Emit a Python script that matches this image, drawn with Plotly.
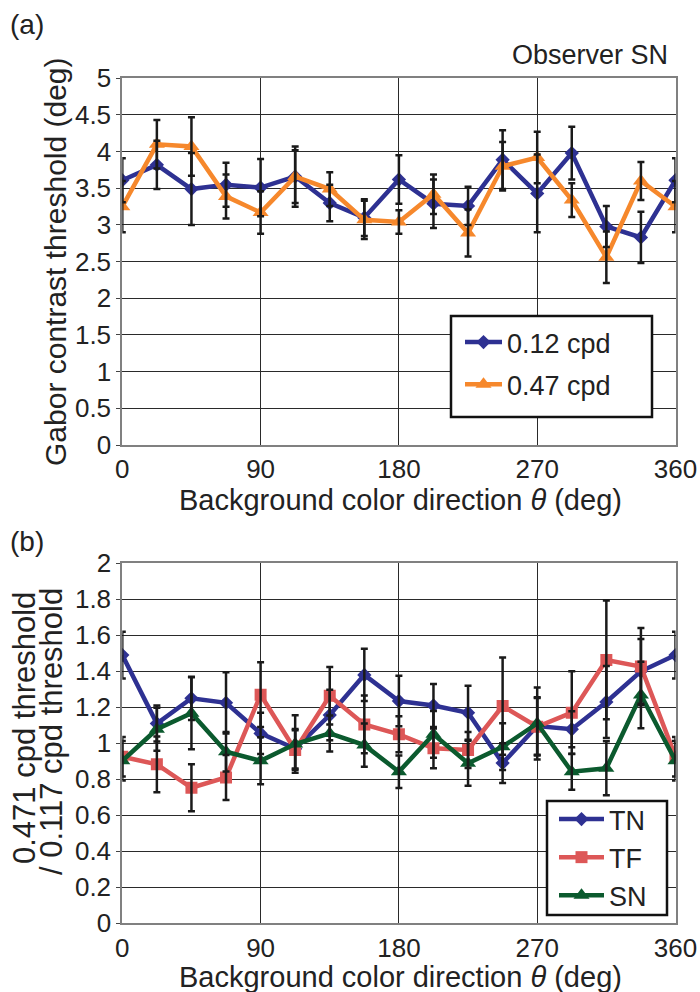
import plotly.graph_objects as go

# Background colour direction (deg)
theta = [0, 22.5, 45, 67.5, 90, 112.5, 135, 157.5, 180,
         202.5, 225, 247.5, 270, 292.5, 315, 337.5, 360]

# (a) Gabor contrast thresholds, observer SN
thr_012 = [3.61, 3.82, 3.49, 3.55, 3.51, 3.66, 3.30, 3.10, 3.62,
           3.29, 3.26, 3.89, 3.43, 3.98, 2.98, 2.83, 3.61]
thr_012_err = [0.30, 0.33, 0.49, 0.30, 0.39, 0.36, 0.25, 0.25, 0.33,
               0.33, 0.26, 0.40, 0.53, 0.36, 0.28, 0.35, 0.30]
thr_047 = [3.25, 4.10, 4.07, 3.39, 3.17, 3.66, 3.49, 3.07, 3.04,
           3.42, 2.89, 3.80, 3.92, 3.34, 2.56, 3.60, 3.25]
thr_047_err = [0.35, 0.33, 0.40, 0.30, 0.29, 0.41, 0.23, 0.26, 0.16,
               0.27, 0.32, 0.33, 0.35, 0.23, 0.35, 0.26, 0.35]

# (b) threshold ratios for three observers
ratio_tn = [1.49, 1.11, 1.25, 1.225, 1.055, 0.97, 1.157, 1.38, 1.235,
            1.21, 1.17, 0.89, 1.096, 1.078, 1.23, 1.40, 1.49]
ratio_tn_err = [0.13, 0.10, 0.12, 0.17, 0.115, 0.11, 0.14, 0.145, 0.14,
                0.12, 0.15, 0.11, 0.16, 0.10, 0.20, 0.18, 0.13]
ratio_tf = [0.925, 0.883, 0.753, 0.81, 1.27, 0.963, 1.264, 1.105, 1.05,
            0.972, 0.963, 1.207, 1.092, 1.17, 1.463, 1.426, 0.925]
ratio_tf_err = [0.11, 0.155, 0.13, 0.125, 0.18, 0.11, 0.16, 0.16, 0.10,
                0.11, 0.10, 0.27, 0.16, 0.23, 0.33, 0.215, 0.11]
ratio_sn = [0.903, 1.078, 1.167, 0.953, 0.903, 0.996, 1.055, 0.99, 0.842,
            1.05, 0.889, 0.981, 1.11, 0.842, 0.861, 1.268, 0.903]
ratio_sn_err = [0.11, 0.12, 0.20, 0.11, 0.13, 0.16, 0.10, 0.12, 0.09,
                0.13, 0.125, 0.13, 0.20, 0.10, 0.15, 0.185, 0.11]

x_ticks = [0, 90, 180, 270, 360]
ya_ticks = [0, 0.5, 1, 1.5, 2, 2.5, 3, 3.5, 4, 4.5, 5]
ya_labels = ["0", "0.5", "1", "1.5", "2", "2.5", "3", "3.5", "4", "4.5", "5"]
yb_ticks = [0, 0.2, 0.4, 0.6, 0.8, 1, 1.2, 1.4, 1.6, 1.8, 2]
yb_labels = ["0", "0.2", "0.4", "0.6", "0.8", "1", "1.2", "1.4", "1.6", "1.8", "2"]

BLUE = "#2E3192"
ORANGE = "#F6882C"
RED = "#DD5757"
GREEN = "#0B5A2E"
ERR = "#1A1A1A"

FONT = "Liberation Sans, Arial, Helvetica"
TICK_FONT = dict(family=FONT, size=26, color="#222")

W, H = 700, 992


def px(x):
    return x / W


def py(y):
    return 1 - y / H


fig = go.Figure()


def add_series(x, y, name, color, symbol, msize, xa, ya, legend):
    fig.add_trace(go.Scatter(
        x=x, y=y, name=name, mode="lines+markers",
        line=dict(color=color, width=4.5),
        marker=dict(symbol=symbol, size=msize, color=color),
        xaxis=xa, yaxis=ya, legend=legend, legendgroup=name,
    ))


def add_errors(x, y, err, xa, ya):
    fig.add_trace(go.Scatter(
        x=x, y=y, mode="markers", showlegend=False, hoverinfo="skip",
        marker=dict(size=1, color="rgba(0,0,0,0)"),
        error_y=dict(type="data", array=err, color=ERR, thickness=2.5, width=3.5),
        xaxis=xa, yaxis=ya,
    ))


# panel (a)
add_series(theta, thr_012, "0.12 cpd", BLUE, "diamond", 11, "x", "y", "legend")
add_series(theta, thr_047, "0.47 cpd", ORANGE, "triangle-up", 14, "x", "y", "legend")
add_errors(theta, thr_012, thr_012_err, "x", "y")
add_errors(theta, thr_047, thr_047_err, "x", "y")

# panel (b)
add_series(theta, ratio_tn, "TN", BLUE, "diamond", 11, "x2", "y2", "legend2")
add_series(theta, ratio_tf, "TF", RED, "square", 12, "x2", "y2", "legend2")
add_series(theta, ratio_sn, "SN", GREEN, "triangle-up", 14, "x2", "y2", "legend2")
add_errors(theta, ratio_tn, ratio_tn_err, "x2", "y2")
add_errors(theta, ratio_tf, ratio_tf_err, "x2", "y2")
add_errors(theta, ratio_sn, ratio_sn_err, "x2", "y2")

x_dom = [px(122.3), px(675.5)]
axis_common = dict(
    showgrid=True, gridcolor="#2a2a2a", gridwidth=1,
    showline=True, linecolor="#808080", linewidth=2, mirror=True,
    zeroline=False, tickfont=TICK_FONT, automargin=False,
)

legend_common = dict(
    xanchor="left", yanchor="top", borderwidth=0,
    bgcolor="rgba(0,0,0,0)", font=dict(family=FONT, size=27, color="#222"),
)

fig.update_layout(
    width=W, height=H,
    margin=dict(l=0, r=0, t=0, b=0, autoexpand=False),
    paper_bgcolor="white", plot_bgcolor="white",
    xaxis=dict(domain=x_dom, range=[0, 360], tickvals=x_ticks, anchor="y",
               ticks="", **axis_common),
    yaxis=dict(domain=[py(445), py(78.3)], range=[0, 5], tickvals=ya_ticks,
               ticktext=ya_labels, anchor="x", ticks="outside", ticklen=4,
               tickcolor="#444", **axis_common),
    xaxis2=dict(domain=x_dom, range=[0, 360], tickvals=x_ticks, anchor="y2",
                ticks="", **axis_common),
    yaxis2=dict(domain=[py(923.3), py(563.3)], range=[0, 2], tickvals=yb_ticks,
                ticktext=yb_labels, anchor="x2", ticks="outside", ticklen=4,
                tickcolor="#444", **axis_common),
    legend=dict(x=px(460), y=py(318), itemwidth=37, tracegroupgap=4,
                **legend_common),
    legend2=dict(x=px(554), y=py(795), itemwidth=45, tracegroupgap=0,
                 **legend_common),
    showlegend=True,
)

# legend frames
for x0, y0, x1, y1 in [(451, 316, 652, 417), (547, 801, 667, 915)]:
    fig.add_shape(type="rect", xref="paper", yref="paper",
                  x0=px(x0), x1=px(x1), y0=py(y1), y1=py(y0),
                  line=dict(color="#111", width=2.5), fillcolor="white",
                  layer="above")

xtitle = "Background color direction <i>θ</i> (deg)"
ann = [
    dict(text="(a)", x=px(8), y=py(25), size=28, xanchor="left"),
    dict(text="(b)", x=px(8), y=py(541), size=28, xanchor="left"),
    dict(text="Observer SN", x=px(670), y=py(55), size=27, xanchor="right"),
    dict(text=xtitle, x=px(400), y=py(500), size=29, xanchor="center"),
    dict(text=xtitle, x=px(400), y=py(977), size=29, xanchor="center"),
    dict(text="Gabor contrast threshold (deg)", x=px(55), y=py(262), size=30,
         xanchor="center", angle=-90),
    dict(text="0.471 cpd threshold", x=px(24), y=py(728), size=31,
         xanchor="center", angle=-90),
    dict(text="/ 0.117 cpd threshold", x=px(51), y=py(732), size=31,
         xanchor="center", angle=-90),
]
for a in ann:
    fig.add_annotation(
        text=a["text"], x=a["x"], y=a["y"], xref="paper", yref="paper",
        xanchor=a["xanchor"], yanchor="middle", showarrow=False,
        textangle=a.get("angle", 0),
        font=dict(family=FONT, size=a["size"], color="#222"),
    )

fig.write_html("out.html")
